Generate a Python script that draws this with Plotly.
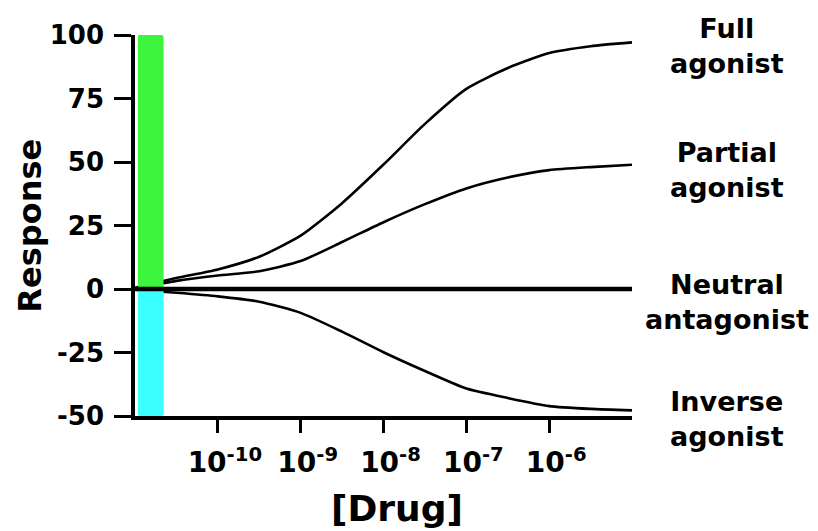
import plotly.graph_objects as go

# ---- data (x = log10 of drug concentration, molar) ----
log_conc = [-11, -10.5, -10, -9.5, -9, -8.5, -8, -7.5, -7, -6.5, -6, -5.5, -5]
full_agonist = [0.5, 4.3, 7.7, 12.7, 21.0, 33.8, 49.0, 65.0, 78.8, 87.0, 92.9, 95.6, 97.1]
partial_agonist = [0.3, 3.2, 5.3, 7.0, 11.0, 18.5, 26.3, 33.4, 39.6, 43.9, 46.8, 48.0, 48.9]
neutral_antagonist = [0, 0, 0, 0, 0, 0, 0, 0, 0, 0, 0, 0, 0]
inverse_agonist = [-0.3, -1.5, -2.9, -5.0, -9.4, -16.8, -24.9, -32.3, -39.2, -42.9, -46.1, -47.2, -47.8]

series_names = ["Full<br>agonist", "Partial<br>agonist", "Neutral<br>antagonist", "Inverse<br>agonist"]

bar_names = ["Maximal response", "Minimal response"]
bar_values = [100, -50]
bar_log_conc = -10.81

x_tick_exponents = [-10, -9, -8, -7, -6]
x_tick_labels = ["10<sup>%d</sup>" % e for e in x_tick_exponents]
y_ticks = [-50, -25, 0, 25, 50, 75, 100]
y_tick_labels = [str(v) for v in y_ticks]

x_range = [-11, -5]
y_range = [-50, 100]

FONT = "DejaVu Sans"
BLACK = "#000000"

fig = go.Figure()

# curves (bottom layer)
for vals in [full_agonist, partial_agonist, inverse_agonist]:
    fig.add_trace(go.Scatter(
        x=log_conc, y=vals, mode="lines",
        line=dict(color=BLACK, width=2.6, shape="spline", smoothing=0.6),
        hoverinfo="skip", showlegend=False, xaxis="x", yaxis="y"))

# bars (overlay layer so they sit above the curves)
fig.add_trace(go.Bar(
    x=[bar_log_conc, bar_log_conc], y=bar_values, name="bars",
    width=0.31, marker=dict(color=["#3cf53c", "#3cffff"], line=dict(width=0), cornerradius=2),
    showlegend=False, hoverinfo="skip", xaxis="x2", yaxis="y2"))

# neutral antagonist line (top layer)
fig.add_trace(go.Scatter(
    x=log_conc, y=neutral_antagonist, mode="lines",
    line=dict(color=BLACK, width=4.5),
    hoverinfo="skip", showlegend=False, xaxis="x3", yaxis="y3"))

axis_common = dict(
    showgrid=False, zeroline=False, showline=True, linecolor=BLACK, linewidth=3.5,
    ticks="outside", tickcolor=BLACK, tickwidth=3, mirror=False,
)

fig.update_layout(
    width=810, height=523,
    margin=dict(l=127, r=186, t=24, b=115),
    paper_bgcolor="white", plot_bgcolor="white",
    font=dict(family=FONT, color=BLACK),
    barmode="overlay",
    xaxis=dict(**axis_common, range=x_range, tickmode="array",
               tickvals=x_tick_exponents, ticktext=x_tick_labels, ticklen=13,
               tickfont=dict(family=FONT, size=28, color=BLACK, weight="bold"),
               ticklabelstandoff=6, ticklabelshift=7),
    yaxis=dict(**axis_common, range=y_range, tickmode="array",
               tickvals=y_ticks, ticktext=y_tick_labels, ticklen=17,
               tickfont=dict(family=FONT, size=26, color=BLACK, weight="bold"),
               ticklabelstandoff=5),
    xaxis2=dict(overlaying="x", range=x_range, visible=False, anchor="y2"),
    yaxis2=dict(overlaying="y", range=y_range, visible=False, anchor="x2"),
    xaxis3=dict(overlaying="x", range=x_range, visible=False, anchor="y3"),
    yaxis3=dict(overlaying="y", range=y_range, visible=False, anchor="x3"),
)

# right-hand series labels, anchored to each series' last value
label_shifts = [-4, -5, -13, -9]
for name, vals, shift in zip(series_names,
                             [full_agonist, partial_agonist, neutral_antagonist, inverse_agonist],
                             label_shifts):
    fig.add_annotation(
        text="<b>%s</b>" % name, x=1.191, xref="paper", y=vals[-1], yref="y",
        xanchor="center", yanchor="middle", yshift=shift, showarrow=False,
        align="center", font=dict(family=FONT, size=27, color=BLACK))

# axis titles
fig.add_annotation(text="<b>Response</b>", x=-0.213, xref="paper", y=0.5, yref="paper",
                   textangle=-90, xanchor="center", yanchor="middle", showarrow=False,
                   font=dict(family=FONT, size=32, color=BLACK))
fig.add_annotation(text="<b>[Drug]</b>", x=0.527, xref="paper", y=-0.242, yref="paper",
                   xanchor="center", yanchor="middle", showarrow=False,
                   font=dict(family=FONT, size=36, color=BLACK))

fig.write_html("out.html")
